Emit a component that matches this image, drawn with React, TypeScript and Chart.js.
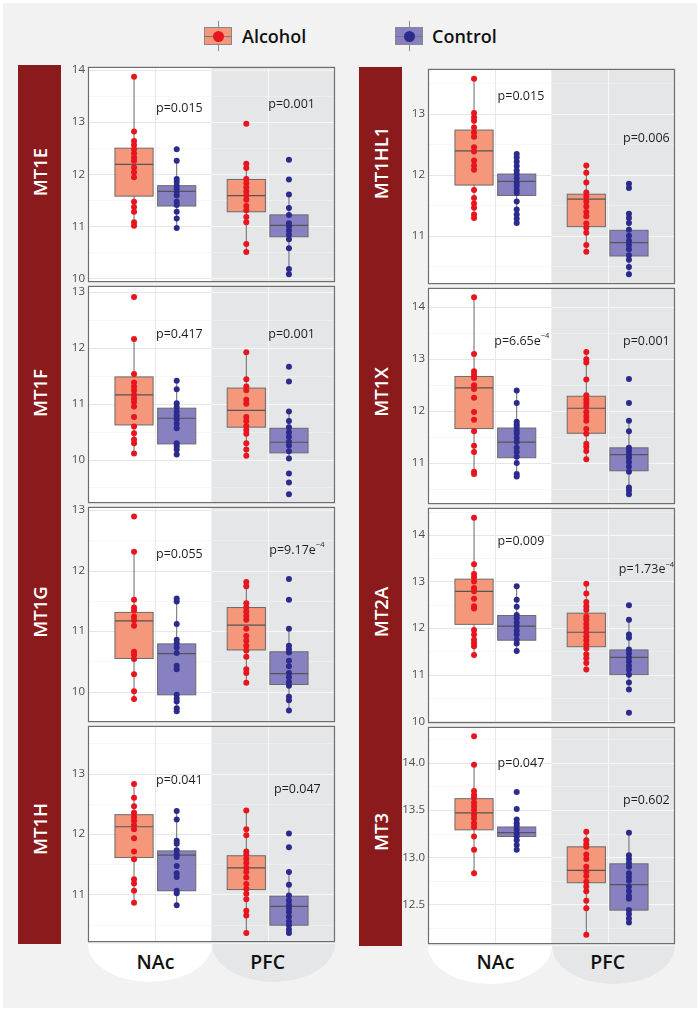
import React, { useEffect, useRef } from "react";
import { Chart, registerables } from "chart.js";
Chart.register(...registerables);

const REGIONS = ["NAc", "PFC"];
const GROUPS = ["Alcohol", "Control"];

// ---------- MT1E ----------
const MT1E_alc_NAc = [13.87, 12.82, 12.64, 12.56, 12.48, 12.4, 12.32, 12.26, 12.13, 12.04, 11.94, 11.47, 11.37, 11.28, 11.08, 11.01];
const MT1E_ctl_NAc = [12.48, 12.26, 11.91, 11.85, 11.78, 11.72, 11.66, 11.59, 11.47, 11.41, 11.28, 11.15, 10.97];
const MT1E_alc_PFC = [12.97, 12.2, 12.12, 11.91, 11.83, 11.75, 11.67, 11.59, 11.51, 11.39, 11.31, 11.18, 11.08, 10.66, 10.51];
const MT1E_ctl_PFC = [12.28, 11.9, 11.61, 11.35, 11.22, 11.06, 11.0, 10.92, 10.84, 10.75, 10.58, 10.18, 10.08];
// box stats: [lower whisker, q1, median, q3, upper whisker] for alc NAc, ctl NAc, alc PFC, ctl PFC
const MT1E_boxes = [
  [11.01, 11.58, 12.19, 12.5, 13.87],
  [10.97, 11.39, 11.67, 11.78, 12.26],
  [10.51, 11.28, 11.59, 11.9, 12.2],
  [10.18, 10.8, 11.02, 11.22, 11.61],
];
const MT1E_ticks = [10, 11, 12, 13, 14];
const MT1E_range = [9.93, 14.06];
const MT1E_p = ["p=0.015", "p=0.001"];

// ---------- MT1F ----------
const MT1F_alc_NAc = [12.91, 12.16, 11.53, 11.38, 11.31, 11.24, 11.16, 11.09, 11.03, 10.95, 10.76, 10.59, 10.47, 10.36, 10.29, 10.11];
const MT1F_ctl_NAc = [11.41, 11.26, 11.01, 10.94, 10.86, 10.79, 10.72, 10.64, 10.56, 10.29, 10.24, 10.18, 10.09];
const MT1F_alc_PFC = [11.92, 11.44, 11.31, 11.24, 11.07, 11.0, 10.76, 10.69, 10.6, 10.53, 10.46, 10.29, 10.18, 10.07];
const MT1F_ctl_PFC = [11.66, 11.4, 10.86, 10.69, 10.58, 10.49, 10.41, 10.32, 10.25, 10.15, 10.02, 9.75, 9.59, 9.38];
const MT1F_boxes = [
  [10.11, 10.62, 11.16, 11.48, 12.16],
  [10.09, 10.28, 10.74, 10.92, 11.41],
  [10.07, 10.58, 10.88, 11.28, 11.92],
  [10.02, 10.12, 10.31, 10.56, 10.86],
];
const MT1F_ticks = [10, 11, 12, 13];
const MT1F_range = [9.22, 13.11];
const MT1F_p = ["p=0.417", "p=0.001"];

// ---------- MT1G ----------
const MT1G_alc_NAc = [12.89, 12.31, 11.52, 11.39, 11.34, 11.24, 11.18, 11.09, 10.66, 10.61, 10.54, 10.29, 10.01, 9.88];
const MT1G_ctl_NAc = [11.54, 11.49, 11.12, 10.86, 10.8, 10.73, 10.64, 10.43, 10.37, 9.95, 9.89, 9.84, 9.73, 9.68];
const MT1G_alc_PFC = [11.81, 11.74, 11.46, 11.39, 11.32, 11.25, 11.19, 11.04, 10.92, 10.84, 10.76, 10.68, 10.58, 10.37, 10.31, 10.15];
const MT1G_ctl_PFC = [11.86, 11.52, 11.04, 10.76, 10.7, 10.65, 10.51, 10.42, 10.31, 10.24, 10.16, 10.1, 9.92, 9.86, 9.69];
const MT1G_boxes = [
  [9.88, 10.55, 11.17, 11.31, 12.31],
  [9.68, 9.95, 10.63, 10.79, 11.54],
  [10.15, 10.69, 11.1, 11.39, 11.81],
  [9.69, 10.12, 10.3, 10.66, 11.04],
];
const MT1G_ticks = [10, 11, 12, 13];
const MT1G_range = [9.5, 13.05];
const MT1G_p = ["p=0.055", "p=9.17e-4"];

// ---------- MT1H ----------
const MT1H_alc_NAc = [12.83, 12.6, 12.46, 12.35, 12.28, 12.22, 12.15, 12.08, 11.93, 11.71, 11.58, 11.25, 11.18, 11.06, 10.86];
const MT1H_ctl_NAc = [12.38, 12.24, 11.89, 11.84, 11.73, 11.67, 11.62, 11.47, 11.35, 11.29, 11.06, 11.02, 10.82];
const MT1H_alc_PFC = [12.39, 12.08, 11.98, 11.71, 11.66, 11.59, 11.52, 11.44, 11.37, 11.28, 11.17, 11.09, 11.01, 10.92, 10.73, 10.65, 10.36];
const MT1H_ctl_PFC = [12.01, 11.78, 11.37, 11.16, 10.98, 10.9, 10.83, 10.77, 10.71, 10.63, 10.55, 10.49, 10.42, 10.36];
const MT1H_boxes = [
  [10.86, 11.61, 12.12, 12.32, 12.83],
  [10.82, 11.06, 11.65, 11.72, 12.38],
  [10.36, 11.08, 11.44, 11.64, 12.39],
  [10.36, 10.49, 10.8, 10.97, 11.37],
];
const MT1H_ticks = [11, 12, 13];
const MT1H_range = [10.21, 13.79];
const MT1H_p = ["p=0.041", "p=0.047"];

// ---------- MT1HL1 ----------
const MT1HL1_alc_NAc = [13.57, 13.01, 12.94, 12.88, 12.77, 12.69, 12.62, 12.45, 12.38, 12.23, 12.15, 12.08, 11.75, 11.62, 11.53, 11.46, 11.35, 11.29];
const MT1HL1_ctl_NAc = [12.34, 12.28, 12.21, 12.14, 12.07, 12.01, 11.94, 11.87, 11.82, 11.75, 11.7, 11.56, 11.43, 11.35, 11.28, 11.21];
const MT1HL1_alc_PFC = [12.15, 12.03, 11.87, 11.71, 11.64, 11.56, 11.48, 11.39, 11.32, 11.2, 11.13, 11.05, 10.85, 10.74];
const MT1HL1_ctl_PFC = [11.85, 11.78, 11.36, 11.29, 11.21, 11.1, 11.0, 10.92, 10.85, 10.78, 10.68, 10.61, 10.49, 10.37];
const MT1HL1_boxes = [
  [11.29, 11.83, 12.39, 12.73, 13.57],
  [11.21, 11.66, 11.89, 12.01, 12.34],
  [10.74, 11.15, 11.6, 11.68, 12.15],
  [10.37, 10.67, 10.89, 11.09, 11.36],
];
const MT1HL1_ticks = [11, 12, 13];
const MT1HL1_range = [10.21, 13.73];
const MT1HL1_p = ["p=0.015", "p=0.006"];

// ---------- MT1X ----------
const MT1X_alc_NAc = [14.18, 13.09, 12.76, 12.7, 12.63, 12.49, 12.42, 12.25, 11.98, 11.83, 11.61, 11.33, 11.21, 10.83, 10.79];
const MT1X_ctl_NAc = [12.39, 12.15, 11.79, 11.74, 11.69, 11.62, 11.56, 11.48, 11.4, 11.29, 11.21, 11.12, 11.0, 10.79, 10.74];
const MT1X_alc_PFC = [13.13, 12.99, 12.93, 12.6, 12.3, 12.22, 12.15, 12.08, 11.98, 11.89, 11.81, 11.65, 11.56, 11.37, 11.31, 11.23, 11.07];
const MT1X_ctl_PFC = [12.61, 12.15, 11.81, 11.61, 11.29, 11.23, 11.16, 11.1, 11.02, 10.93, 10.83, 10.53, 10.47, 10.4];
const MT1X_boxes = [
  [10.79, 11.66, 12.44, 12.66, 14.18],
  [10.74, 11.1, 11.4, 11.67, 12.39],
  [11.07, 11.57, 12.05, 12.28, 13.13],
  [10.4, 10.85, 11.16, 11.29, 11.81],
];
const MT1X_ticks = [11, 12, 13, 14];
const MT1X_range = [10.21, 14.36];
const MT1X_p = ["p=6.65e-4", "p=0.001"];

// ---------- MT2A ----------
const MT2A_alc_NAc = [14.37, 13.37, 13.16, 13.09, 13.0, 12.86, 12.79, 12.63, 12.47, 12.42, 11.96, 11.86, 11.75, 11.68, 11.61, 11.42];
const MT2A_ctl_NAc = [12.9, 12.61, 12.46, 12.28, 12.21, 12.12, 12.04, 11.95, 11.86, 11.75, 11.67, 11.51];
const MT2A_alc_PFC = [12.95, 12.74, 12.56, 12.47, 12.39, 12.25, 12.18, 12.09, 12.0, 11.91, 11.82, 11.74, 11.65, 11.56, 11.44, 11.35, 11.25, 11.11];
const MT2A_ctl_PFC = [12.49, 12.18, 11.86, 11.79, 11.54, 11.46, 11.37, 11.28, 11.19, 11.11, 11.0, 10.83, 10.68, 10.18];
const MT2A_boxes = [
  [11.42, 12.08, 12.79, 13.05, 14.37],
  [11.51, 11.74, 12.04, 12.27, 12.9],
  [11.11, 11.6, 11.91, 12.32, 12.95],
  [10.68, 11.0, 11.37, 11.53, 12.18],
];
const MT2A_ticks = [10, 11, 12, 13, 14];
const MT2A_range = [9.96, 14.58];
const MT2A_p = ["p=0.009", "p=1.73e-4"];

// ---------- MT3 ----------
const MT3_alc_NAc = [14.28, 13.98, 13.7, 13.66, 13.63, 13.58, 13.54, 13.5, 13.45, 13.41, 13.36, 13.32, 13.22, 13.08, 12.83];
const MT3_ctl_NAc = [13.69, 13.51, 13.4, 13.36, 13.33, 13.29, 13.25, 13.22, 13.18, 13.13, 13.08];
const MT3_alc_PFC = [13.27, 13.18, 13.14, 13.11, 13.03, 12.98, 12.9, 12.85, 12.8, 12.74, 12.69, 12.64, 12.54, 12.46, 12.18];
const MT3_ctl_PFC = [13.26, 13.02, 12.98, 12.94, 12.9, 12.83, 12.79, 12.75, 12.69, 12.64, 12.59, 12.56, 12.44, 12.4, 12.35, 12.31];
const MT3_boxes = [
  [12.83, 13.29, 13.47, 13.62, 13.98],
  [13.08, 13.22, 13.26, 13.32, 13.4],
  [12.18, 12.73, 12.86, 13.11, 13.27],
  [12.31, 12.44, 12.71, 12.93, 13.26],
];
const MT3_ticks = [12.5, 13.0, 13.5, 14.0];
const MT3_range = [12.08, 14.38];
const MT3_p = ["p=0.047", "p=0.602"];

// ---------- styling / layout ----------
const FONT = '"Open Sans", "Noto Sans", sans-serif';
const ALC_FILL = "#f4977a";
const ALC_DOT = "#e8141e";
const CTL_FILL = "#8781c2";
const CTL_DOT = "#2b2b8e";
const STRIP = "#8b1a1d";
const BAND = "#e5e6e8";
const DODGE = 0.19;
const BOX_HALF = 0.17;
const PLOT_W = 247;
const AXIS_W = 30;
const PAD_T = 8;
const PAD_B = 8;
const PAD_R = 4;

type Gene = {
  name: string;
  alcNAc: number[];
  ctlNAc: number[];
  alcPFC: number[];
  ctlPFC: number[];
  boxes: number[][];
  ticks: number[];
  range: number[];
  p: string[];
  pPos: number[][]; // label anchor (x in category units, y in data units)
  decimals: number;
  labelY: number;
};

const GENES_LEFT: Gene[] = [
  { name: "MT1E", alcNAc: MT1E_alc_NAc, ctlNAc: MT1E_ctl_NAc, alcPFC: MT1E_alc_PFC, ctlPFC: MT1E_ctl_PFC, boxes: MT1E_boxes, ticks: MT1E_ticks, range: MT1E_range, p: MT1E_p, pPos: [[1.006, 13.27], [2.006, 13.34]], decimals: 0, labelY: 172 },
  { name: "MT1F", alcNAc: MT1F_alc_NAc, ctlNAc: MT1F_ctl_NAc, alcPFC: MT1F_alc_PFC, ctlPFC: MT1F_ctl_PFC, boxes: MT1F_boxes, ticks: MT1F_ticks, range: MT1F_range, p: MT1F_p, pPos: [[1.006, 12.24], [2.006, 12.24]], decimals: 0, labelY: 393 },
  { name: "MT1G", alcNAc: MT1G_alc_NAc, ctlNAc: MT1G_ctl_NAc, alcPFC: MT1G_alc_PFC, ctlPFC: MT1G_ctl_PFC, boxes: MT1G_boxes, ticks: MT1G_ticks, range: MT1G_range, p: MT1G_p, pPos: [[1.006, 12.27], [2.015, 12.34]], decimals: 0, labelY: 612 },
  { name: "MT1H", alcNAc: MT1H_alc_NAc, ctlNAc: MT1H_ctl_NAc, alcPFC: MT1H_alc_PFC, ctlPFC: MT1H_ctl_PFC, boxes: MT1H_boxes, ticks: MT1H_ticks, range: MT1H_range, p: MT1H_p, pPos: [[1.006, 12.88], [2.057, 12.74]], decimals: 0, labelY: 829 },
];
const GENES_RIGHT: Gene[] = [
  { name: "MT1HL1", alcNAc: MT1HL1_alc_NAc, ctlNAc: MT1HL1_ctl_NAc, alcPFC: MT1HL1_alc_PFC, ctlPFC: MT1HL1_ctl_PFC, boxes: MT1HL1_boxes, ticks: MT1HL1_ticks, range: MT1HL1_range, p: MT1HL1_p, pPos: [[1.02, 13.28], [2.137, 12.6]], decimals: 0, labelY: 163 },
  { name: "MT1X", alcNAc: MT1X_alc_NAc, ctlNAc: MT1X_ctl_NAc, alcPFC: MT1X_alc_PFC, ctlPFC: MT1X_ctl_PFC, boxes: MT1X_boxes, ticks: MT1X_ticks, range: MT1X_range, p: MT1X_p, pPos: [[0.99, 13.34], [2.137, 13.34]], decimals: 0, labelY: 392 },
  { name: "MT2A", alcNAc: MT2A_alc_NAc, ctlNAc: MT2A_ctl_NAc, alcPFC: MT2A_alc_PFC, ctlPFC: MT2A_ctl_PFC, boxes: MT2A_boxes, ticks: MT2A_ticks, range: MT2A_range, p: MT2A_p, pPos: [[1.02, 13.87], [2.1, 13.26]], decimals: 0, labelY: 612 },
  { name: "MT3", alcNAc: MT3_alc_NAc, ctlNAc: MT3_ctl_NAc, alcPFC: MT3_alc_PFC, ctlPFC: MT3_ctl_PFC, boxes: MT3_boxes, ticks: MT3_ticks, range: MT3_range, p: MT3_p, pPos: [[1.02, 13.99], [2.137, 13.6]], decimals: 1, labelY: 832 },
];

const COLS = [
  { genes: GENES_LEFT, plotLeft: 88, tops: [65, 284, 505, 724], bottom: 944, stripLeft: 18 },
  { genes: GENES_RIGHT, plotLeft: 428, tops: [67, 286, 506, 725], bottom: 946, stripLeft: 359 },
];

function drawP(ctx: CanvasRenderingContext2D, text: string, x: number, y: number) {
  const m = text.match(/^(.*e)(-\d+)$/);
  ctx.fillStyle = "#1e1e1e";
  ctx.textAlign = "left";
  ctx.textBaseline = "middle";
  ctx.font = `12.5px ${FONT}`;
  if (m) {
    ctx.fillText(m[1], x, y);
    const w = ctx.measureText(m[1]).width;
    ctx.font = `7.5px ${FONT}`;
    ctx.fillText(m[2].replace("-", "\u2212"), x + w, y - 5);
  } else {
    ctx.fillText(text, x, y);
  }
}

function makePlugin(g: Gene) {
  return {
    id: "boxpanel",
    beforeDatasetsDraw(chart: any) {
      const { ctx, chartArea: a, scales } = chart;
      const x = scales.x;
      const y = scales.y;
      ctx.save();
      const xb = x.getPixelForValue(1.5);
      ctx.fillStyle = "#ffffff";
      ctx.fillRect(a.left, a.top, xb - a.left, a.bottom - a.top);
      ctx.fillStyle = BAND;
      ctx.fillRect(xb, a.top, a.right - xb, a.bottom - a.top);

      const step = g.ticks[1] - g.ticks[0];
      const minors: number[] = [g.ticks[0] - step / 2, ...g.ticks.map((t) => t + step / 2)].filter(
        (v) => v > g.range[0] && v < g.range[1]
      );
      const hline = (v: number, w: number, c1: string, c2: string) => {
        const py = Math.round(y.getPixelForValue(v)) + 0.5;
        ctx.lineWidth = w;
        ctx.strokeStyle = c1;
        ctx.beginPath();
        ctx.moveTo(a.left, py);
        ctx.lineTo(xb, py);
        ctx.stroke();
        ctx.strokeStyle = c2;
        ctx.beginPath();
        ctx.moveTo(xb, py);
        ctx.lineTo(a.right, py);
        ctx.stroke();
      };
      minors.forEach((v) => hline(v, 0.6, "#f1f1f1", "#f3f3f4"));
      g.ticks.forEach((v) => hline(v, 1, "#e6e6e6", "#f7f7f8"));
      [1, 2].forEach((c, i) => {
        const px = Math.round(x.getPixelForValue(c)) + 0.5;
        ctx.strokeStyle = i === 0 ? "#e8e8e8" : "#f7f7f8";
        ctx.lineWidth = 1;
        ctx.beginPath();
        ctx.moveTo(px, a.top);
        ctx.lineTo(px, a.bottom);
        ctx.stroke();
      });

      // boxes
      REGIONS.forEach((_, r) => {
        GROUPS.forEach((_, gi) => {
          const b = g.boxes[r * 2 + gi];
          const cx = r + 1 + (gi === 0 ? -DODGE : DODGE);
          const pxc = x.getPixelForValue(cx);
          const pl = x.getPixelForValue(cx - BOX_HALF);
          const pr = x.getPixelForValue(cx + BOX_HALF);
          const yLo = y.getPixelForValue(b[0]);
          const yQ1 = y.getPixelForValue(b[1]);
          const yMed = y.getPixelForValue(b[2]);
          const yQ3 = y.getPixelForValue(b[3]);
          const yHi = y.getPixelForValue(b[4]);
          ctx.strokeStyle = "#6a6a6a";
          ctx.lineWidth = 1;
          ctx.beginPath();
          ctx.moveTo(pxc, yHi);
          ctx.lineTo(pxc, yQ3);
          ctx.moveTo(pxc, yQ1);
          ctx.lineTo(pxc, yLo);
          ctx.stroke();
          ctx.fillStyle = gi === 0 ? ALC_FILL : CTL_FILL;
          ctx.fillRect(pl, yQ3, pr - pl, yQ1 - yQ3);
          ctx.strokeStyle = "#6a6a6a";
          ctx.strokeRect(pl, yQ3, pr - pl, yQ1 - yQ3);
          ctx.strokeStyle = "#555555";
          ctx.lineWidth = 1.2;
          ctx.beginPath();
          ctx.moveTo(pl, yMed);
          ctx.lineTo(pr, yMed);
          ctx.stroke();
        });
      });
      ctx.restore();
    },
    afterDatasetsDraw(chart: any) {
      const { ctx, chartArea: a, scales } = chart;
      ctx.save();
      g.p.forEach((t, i) => {
        drawP(ctx, t, scales.x.getPixelForValue(g.pPos[i][0]), scales.y.getPixelForValue(g.pPos[i][1]));
      });
      ctx.strokeStyle = "#6e6e6e";
      ctx.lineWidth = 1.2;
      ctx.strokeRect(a.left + 0.5, a.top + 0.5, a.right - a.left - 1, a.bottom - a.top - 1);
      ctx.restore();
    },
  };
}

function Panel({ g, left, top, height }: { g: Gene; left: number; top: number; height: number }) {
  const ref = useRef<HTMLCanvasElement>(null);
  const W = AXIS_W + PLOT_W + PAD_R;
  const H = height + PAD_T + PAD_B;
  useEffect(() => {
    const pts = (vals: number[], cx: number) => vals.map((v) => ({ x: cx, y: v }));
    const chart = new Chart(ref.current as HTMLCanvasElement, {
      type: "scatter",
      data: {
        datasets: [
          {
            label: GROUPS[0],
            data: [...pts(g.alcNAc, 1 - DODGE), ...pts(g.alcPFC, 2 - DODGE)],
            backgroundColor: ALC_DOT,
            borderWidth: 0,
            pointRadius: 3,
          },
          {
            label: GROUPS[1],
            data: [...pts(g.ctlNAc, 1 + DODGE), ...pts(g.ctlPFC, 2 + DODGE)],
            backgroundColor: CTL_DOT,
            borderWidth: 0,
            pointRadius: 3,
          },
        ],
      },
      options: {
        responsive: false,
        animation: false,
        devicePixelRatio: 1,
        events: [],
        layout: { padding: { top: PAD_T, bottom: PAD_B, right: PAD_R, left: 0 } },
        plugins: { legend: { display: false }, tooltip: { enabled: false } },
        scales: {
          x: { type: "linear", min: 0.4, max: 2.6, display: false },
          y: {
            type: "linear",
            min: g.range[0],
            max: g.range[1],
            afterFit: (s: any) => {
              s.width = AXIS_W;
            },
            afterBuildTicks: (s: any) => {
              s.ticks = g.ticks.map((v) => ({ value: v }));
            },
            grid: { display: false, drawTicks: false },
            border: { display: false },
            ticks: {
              padding: 3,
              color: "#4d4d4d",
              font: { family: FONT, size: 11.5 },
              callback: (v: any) => Number(v).toFixed(g.decimals),
            },
          },
        },
      } as any,
      plugins: [makePlugin(g)],
    });
    return () => chart.destroy();
  }, []);
  return (
    <canvas
      ref={ref}
      width={W}
      height={H}
      style={{ position: "absolute", left: left - AXIS_W, top: top - PAD_T, width: W, height: H }}
    />
  );
}

function LegendIcon({ left, fill, dot }: { left: number; fill: string; dot: string }) {
  return (
    <>
      <div style={{ position: "absolute", left: left + 13.5, top: 21, width: 1, height: 30, background: "#888" }} />
      <div
        style={{
          position: "absolute",
          left,
          top: 27,
          width: 28,
          height: 18,
          boxSizing: "border-box",
          background: fill,
          border: "1px solid #888",
        }}
      />
      <div style={{ position: "absolute", left, top: 35.5, width: 28, height: 1, background: "#777" }} />
      <div
        style={{
          position: "absolute",
          left: left + 8.5,
          top: 30.5,
          width: 11,
          height: 11,
          borderRadius: "50%",
          background: dot,
        }}
      />
    </>
  );
}

export default function App() {
  return (
    <div
      style={{
        position: "absolute",
        left: 0,
        top: 0,
        width: 700,
        height: 1012,
        background: "#ffffff",
        overflow: "hidden",
        fontFamily: FONT,
      }}
    >
      <div style={{ position: "absolute", left: 3, top: 3, width: 694, height: 1005, background: "#f2f2f2" }} />

      {/* legend */}
      <LegendIcon left={204} fill={ALC_FILL} dot={ALC_DOT} />
      <div style={{ position: "absolute", left: 242, top: 23, fontSize: 18, fontWeight: 600, lineHeight: "26px", color: "#111" }}>
        {GROUPS[0]}
      </div>
      <LegendIcon left={395} fill={CTL_FILL} dot={CTL_DOT} />
      <div style={{ position: "absolute", left: 432, top: 23, fontSize: 18, fontWeight: 600, lineHeight: "26px", color: "#111" }}>
        {GROUPS[1]}
      </div>

      {COLS.map((col, ci) => (
        <React.Fragment key={ci}>
          <div
            style={{
              position: "absolute",
              left: col.stripLeft,
              top: col.tops[0],
              width: 43,
              height: col.bottom - col.tops[0],
              background: STRIP,
            }}
          />
          {col.genes.map((g, ri) => (
            <div
              key={"l" + ri}
              style={{
                position: "absolute",
                left: col.stripLeft + 21.5,
                top: g.labelY,
                transform: "translate(-50%, -50%) rotate(-90deg)",
                color: "#ffffff",
                fontSize: 18.5,
                fontWeight: 600,
                whiteSpace: "nowrap",
                lineHeight: "22px",
              }}
            >
              {g.name}
            </div>
          ))}
          {/* region labels */}
          <div
            style={{
              position: "absolute",
              left: col.plotLeft,
              top: col.bottom,
              width: 124,
              height: 38,
              background: "#ffffff",
              borderRadius: "0 0 50% 50% / 0 0 100% 100%",
            }}
          />
          <div
            style={{
              position: "absolute",
              left: col.plotLeft + 124,
              top: col.bottom,
              width: PLOT_W - 124,
              height: 38,
              background: BAND,
              borderRadius: "0 0 50% 50% / 0 0 100% 100%",
            }}
          />
          {REGIONS.map((r, i) => (
            <div
              key={r}
              style={{
                position: "absolute",
                left: col.plotLeft + 67.4 + i * 112.3,
                top: 962 - 14,
                transform: "translateX(-50%)",
                fontSize: 19.5,
                fontWeight: 600,
                lineHeight: "28px",
                color: "#111",
              }}
            >
              {r}
            </div>
          ))}
          {col.genes.map((g, ri) => {
            const top = col.tops[ri];
            const bottom = ri < 3 ? col.tops[ri + 1] : col.bottom;
            return <Panel key={g.name} g={g} left={col.plotLeft} top={top} height={bottom - top} />;
          })}
        </React.Fragment>
      ))}
    </div>
  );
}
